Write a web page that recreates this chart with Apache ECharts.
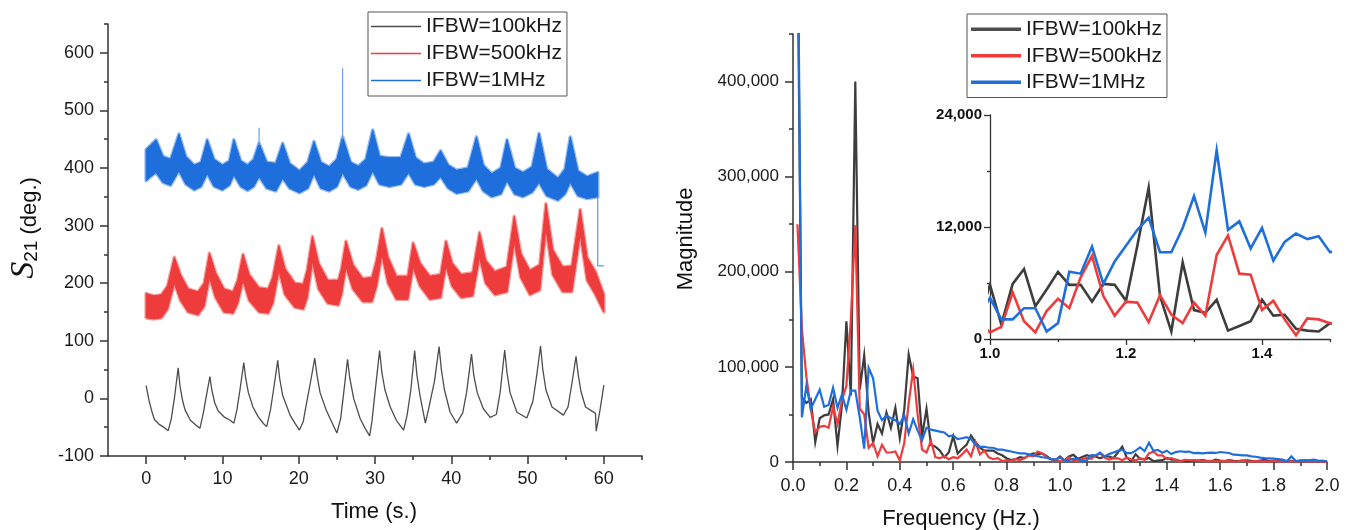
<!DOCTYPE html>
<html><head><meta charset="utf-8">
<script src="https://cdn.jsdelivr.net/npm/echarts@6/dist/echarts.min.js"></script>
<style>html,body{margin:0;padding:0;background:#fff}#c{width:1351px;height:530px}</style>
</head><body><div id="c"></div>
<script>
// ---------- tick labels ----------
const leftXTicks=[0,10,20,30,40,50,60];
const leftXMinor=[5,15,25,35,45,55,65];
const leftYTicks=[-100,0,100,200,300,400,500,600];
const leftYMinor=[-50,50,150,250,350,450,550,650];
const rightXTicks=[0,0.2,0.4,0.6,0.8,1.0,1.2,1.4,1.6,1.8,2.0];
const rightXMinor=[0.1,0.3,0.5,0.7,0.9,1.1,1.3,1.5,1.7,1.9];
const rightYTicks=[0,100000,200000,300000,400000];
const rightYMinor=[50000,150000,250000,350000,450000];
const insetXTicks=[1.0,1.2,1.4];
const insetXMinor=[1.1,1.3,1.5];
const insetYTicks=[0,12000,24000];
const insetYMinor=[6000,18000];
const seriesNames=['IFBW=100kHz','IFBW=500kHz','IFBW=1MHz'];

// ---------- left: S21 phase vs time ----------
const blackT=[0,0.4,0.8,1.1,1.7,2.2,2.6,2.9,3.3,3.7,4.2,4.45,4.8,5.1,5.8,6.5,7.05,7.5,7.9,8.36,8.6,9.0,9.45,10.2,11.0,11.5,11.9,12.3,12.8,13.05,13.4,14.0,14.7,15.4,15.8,16.3,16.7,17.25,17.5,17.9,18.9,19.5,20.1,20.6,21.0,21.5,22.1,22.4,22.8,23.6,24.4,25.0,25.5,25.9,26.4,26.7,27.2,28.05,28.7,29.3,29.6,30.0,30.6,30.9,31.3,32.0,32.8,33.75,34.2,34.7,35.2,35.5,35.9,36.6,37.0,37.8,38.4,38.7,39.1,39.85,40.7,41.5,42.0,42.65,42.95,43.4,44.2,45.1,45.9,46.4,47.0,47.3,47.7,48.6,49.9,50.7,51.2,51.7,52.0,52.4,53.2,54.7,55.3,55.8,56.35,56.65,57.0,57.6,58.9,59.0,59.5,60.0];
const blackV=[22,-5,-25,-37,-45,-49,-53,-56,-35,0,53,20,-5,-20,-38,-46,-52,-25,5,38,15,-8,-22,-32,-38,-43,-20,15,62,35,10,-15,-32,-44,-49,-20,15,66,35,5,-30,-43,-55,-40,-10,25,70,40,10,-20,-43,-60,-35,10,68,35,0,-35,-52,-65,-40,10,83,45,15,-15,-38,-55,-30,15,83,40,5,-43,-20,30,90,50,15,-24,-43,-25,10,77,40,10,-18,-33,-28,10,84,45,10,-24,-34,-5,40,91,50,15,-15,-29,-15,25,73,40,12,-15,-26,-57,-20,23];

const redT=[0,1,2,2.8,3.7,4.5,5.5,6.8,7.6,8.3,9.1,10.2,11.4,12.0,12.7,13.5,14.8,16.0,16.6,17.4,18.2,19.5,20.6,21.1,21.8,22.6,23.8,25.2,25.6,26.2,27.1,28.4,29.6,30.2,30.9,31.7,32.8,34.3,35.0,35.9,37.2,38.6,39.3,40.1,41.3,42.8,43.7,44.5,45.7,47.3,48.25,49.1,50.3,51.6,52.4,53.3,54.6,55.8,56.9,57.8,58.9,60];
const redLo=[140,138,140,155,200,170,150,145,160,210,175,150,148,165,205,170,150,148,165,222,180,158,155,175,238,190,165,162,180,228,190,168,168,195,250,200,172,172,228,195,172,175,230,195,175,178,245,200,180,185,272,210,180,188,295,215,185,185,285,205,180,150];
const redHi=[182,178,180,195,245,215,190,185,200,252,218,190,185,205,250,215,192,190,210,265,225,200,198,222,281,235,205,205,225,273,232,208,210,240,295,245,212,212,270,235,212,215,273,235,215,218,288,240,220,228,316,252,222,232,338,258,228,230,328,245,220,180];

const blueT=[0,0.6,1.3,2.2,3.2,4.3,5.2,6.3,7.2,8.0,8.9,10.0,10.9,11.5,12.4,13.3,14.1,14.8,15.8,17.0,17.9,18.8,20.1,21.2,22.0,22.9,24.0,25.0,25.75,26.8,27.8,28.8,29.7,30.6,31.9,33.4,34.4,35.3,36.4,37.7,38.6,39.6,40.7,42.2,43.3,44.2,45.3,46.5,47.3,48.3,49.4,50.6,51.5,52.5,54.0,54.9,55.6,56.6,57.8,59.2];
const blueLo=[378,385,392,375,370,395,372,362,368,390,368,362,370,388,368,361,368,385,365,360,382,365,357,365,390,365,360,368,392,368,363,370,395,372,368,372,392,372,368,372,385,365,356,360,382,360,350,355,378,355,350,358,375,352,344,355,375,352,347,350];
const blueHi=[432,440,449,420,415,459,420,405,410,449,415,405,412,449,412,405,415,443,410,408,443,408,395,410,446,410,402,415,454,410,403,415,466,420,418,418,459,418,407,410,430,405,396,400,454,405,390,400,449,400,392,402,460,398,382,398,454,395,385,392];
const blueSpikeT=[14.8,25.75];
const blueSpikeBase=[440,450];
const blueSpikeTop=[470,573];
const blueTailT=[59.2,59.2,60];
const blueTailV=[350,230,230];

// ---------- right: FFT magnitude (bins k/60 Hz, k=1..120) ----------
const fftBinHz=1/60;
const magBlack=[560000,68000,62000,66000,21000,46000,49000,50000,66000,17000,
60000,148000,70000,400000,76000,112000,52000,20000,40000,30000,
52000,36000,57000,25000,55000,113000,90000,88000,27000,56000,
18000,16000,12000,5000,10000,27000,9000,14000,18000,28000,
21000,15000,12000,12000,12000,9000,7000,4000,2000,3000,
5000,4000,7000,9000,8000,9000,6000,3000,2000,
5800,1550,5900,7500,3500,5300,7200,5800,5800,4000,5900,5800,4100,10000,16200,4600,800,8200,3100,2800,4200,900,1400,1900,4200,2500,2600,1100,900,800,1700,
1500,2000,1200,800,2500,1600,1000,2000,1300,900,1500,1800,1100,700,1400,2200,900,1200,1600,800,1300,1100,600,1400,900,1200,700,1000,1300,800];
const magRed=[250000,140000,90000,55000,31000,37000,38000,36000,58000,40000,
65000,80000,150000,249000,56000,50000,15000,20000,6000,18000,
10000,10000,11000,1500,20000,62000,97000,50000,13000,10000,
22000,5000,4000,6000,3000,5000,4000,8000,13000,6000,
21000,8000,12000,5000,3000,4000,1000,2000,1000,3000,
2000,4000,7000,6000,11000,9000,5000,3000,2000,
700,1300,5000,1900,700,3000,4300,3300,6600,8900,4600,2500,4000,3900,1800,4700,2600,1700,3900,2500,9000,11100,7000,6900,3100,4100,2100,400,2200,2100,1700,
1500,1200,1000,800,1200,600,900,1100,500,800,1400,700,500,1000,600,800,400,1200,600,1000,300,900,500,700,1100,400,600,800,500,300];
const magBlue=[620000,47000,80000,56000,66000,76000,58000,60000,78000,57000,
71000,55000,75000,75000,47000,14000,99000,88000,54000,44000,
49000,46000,44000,40000,49000,30000,45000,33000,23000,36000,
34000,33000,32000,31000,27000,28000,24000,25000,26000,24000,
18000,16000,16000,15000,15000,13000,13000,12000,11000,10000,
9000,9000,8000,7000,6000,5000,4600,3000,2500,
4400,2100,2100,3300,3300,800,1700,7200,7000,9900,5900,8300,10000,11700,13000,9300,9300,11900,15300,11400,20200,11700,12600,9700,11900,8400,10400,11300,10700,11000,9300,
9500,9000,9500,9800,9500,10500,10000,9500,7700,7500,7000,7000,6000,5500,4600,4000,3800,3500,3000,2500,700,6000,1000,1500,2000,1800,2500,1500,1200,800];

// ---------- styling ----------
const C_BLACK='#3d3d3d', C_BLACK_L='#4d4d4d', C_RED='#ee3b3b', C_RED_E='rgba(240,80,80,0.55)', C_BLUE='#1e6fdc', C_BLUE_E='rgba(60,130,230,0.55)';
const AX='#333';
const FONT='Liberation Sans';
const comma=v=>String(v).replace(/\B(?=(\d{3})+(?!\d))/g,',');

function mainAxis(gridIndex,pos,min,max,ticks,fmt,lab,tickLen,lineW){
  return {type:'value',gridIndex,position:pos,min,max,
    axisLine:{show:true,onZero:false,lineStyle:{color:AX,width:lineW}},
    axisTick:{show:true,inside:false,length:tickLen,customValues:ticks,lineStyle:{color:AX,width:lineW}},
    axisLabel:Object.assign({show:true,customValues:ticks,formatter:fmt,fontFamily:FONT,color:'#1a1a1a'},lab),
    splitLine:{show:false},minorTick:{show:false}};
}
function minorAxis(gridIndex,pos,min,max,ticks,tickLen,lineW){
  return {type:'value',gridIndex,position:pos,min,max,
    axisLine:{show:false,onZero:false},axisLabel:{show:false},
    axisTick:{show:true,inside:false,length:tickLen,customValues:ticks,lineStyle:{color:AX,width:lineW}},
    splitLine:{show:false}};
}
function band(name,T,LO,HI,fill,edge){
  return {type:'custom',name,xAxisIndex:0,yAxisIndex:0,coordinateSystem:'cartesian2d',
    itemStyle:{color:fill},silent:true,z:2,
    data:T.map((t,i)=>[t,LO[i],HI[i]]),encode:{x:0,y:[1,2]},
    renderItem(params,api){
      if(params.dataIndex!==0) return null;
      const pts=[];
      for(let i=0;i<T.length;i++) pts.push(api.coord([T[i],HI[i]]));
      for(let i=T.length-1;i>=0;i--) pts.push(api.coord([T[i],LO[i]]));
      return {type:'group',children:[
        {type:'polygon',shape:{points:pts},style:{fill:edge,stroke:edge,lineWidth:3.5,lineJoin:'round'}},
        {type:'polygon',shape:{points:pts},style:{fill:fill,stroke:fill,lineWidth:1}}
      ]};
    }};
}
function thinLine(name,pts,color,w){
  return {type:'line',name,xAxisIndex:0,yAxisIndex:0,data:pts,showSymbol:false,symbol:'none',
    lineStyle:{color,width:w},itemStyle:{color},silent:true,z:3};
}
function fft(name,vals,color,ai,w,z){
  return {type:'line',name,xAxisIndex:ai,yAxisIndex:ai,
    data:vals.map((v,i)=>[(i+1)*fftBinHz,v]),
    showSymbol:false,symbol:'none',lineStyle:{color,width:w,join:'miter'},itemStyle:{color},
    clip:true,silent:true,z};
}

const chart=echarts.init(document.getElementById('c'),null,{renderer:'canvas'});
const legendBase={orient:'vertical',itemWidth:50,itemGap:0,borderColor:'#555',borderWidth:1,
  backgroundColor:'#fff',selectedMode:false,
  textStyle:{fontSize:21,fontFamily:FONT,color:'#1a1a1a'}};
const spikeSeries=blueSpikeT.map((t,i)=>thinLine(seriesNames[2],[[t,blueSpikeBase[i]],[t,blueSpikeTop[i]]],'#6a9fea',1.2));
chart.setOption({
  animation:false,
  tooltip:{show:false},
  grid:[
    {left:108,top:24,width:534,height:432},
    {left:793,top:34,width:534,height:428},
    {left:990,top:115,width:340,height:224}
  ],
  xAxis:[
    mainAxis(0,'bottom',-5,65,leftXTicks,v=>String(v),{fontSize:18,margin:14},8,1.5),
    minorAxis(0,'bottom',-5,65,leftXMinor,4,1.5),
    mainAxis(1,'bottom',0,2,rightXTicks,v=>v.toFixed(1),{fontSize:18,margin:15},8,1.5),
    minorAxis(1,'bottom',0,2,rightXMinor,4,1.5),
    mainAxis(2,'bottom',1,1.5,insetXTicks,v=>v.toFixed(1),{fontSize:15,fontWeight:'bold',margin:7,color:'#111'},6,1.3),
    minorAxis(2,'bottom',1,1.5,insetXMinor,3,1.3)
  ],
  yAxis:[
    mainAxis(0,'left',-100,650,leftYTicks,v=>String(v),{fontSize:18,margin:14},8,1.5),
    minorAxis(0,'left',-100,650,leftYMinor,4,1.5),
    mainAxis(1,'left',0,450000,rightYTicks,comma,{fontSize:17,margin:14},8,1.5),
    minorAxis(1,'left',0,450000,rightYMinor,4,1.5),
    mainAxis(2,'left',0,24000,insetYTicks,comma,{fontSize:15,fontWeight:'bold',margin:8,color:'#111'},6,1.3),
    minorAxis(2,'left',0,24000,insetYMinor,3,1.3)
  ],
  legend:[
    Object.assign({},legendBase,{data:seriesNames.map(n=>({name:n,icon:'rect'})),left:368,top:12,
      itemHeight:1.5,padding:[1,5,2,3],textStyle:Object.assign({},legendBase.textStyle,{lineHeight:27})}),
    Object.assign({},legendBase,{data:seriesNames.map(n=>({name:n,icon:'rect'})),left:967,top:14,
      itemHeight:3.5,padding:[2,5,2,4],textStyle:Object.assign({},legendBase.textStyle,{lineHeight:26.5})})
  ],
  series:[
    band(seriesNames[2],blueT,blueLo,blueHi,C_BLUE,C_BLUE_E),
    band(seriesNames[1],redT,redLo,redHi,C_RED,C_RED_E),
    thinLine(seriesNames[0],blackT.map((t,i)=>[t,blackV[i]]),C_BLACK_L,1.3),
    ...spikeSeries,
    thinLine(seriesNames[2],blueTailT.map((t,i)=>[t,blueTailV[i]]),'#5b95e8',1.2),
    fft(seriesNames[0],magBlack,C_BLACK,2,2.2,3),
    fft(seriesNames[1],magRed,C_RED,2,2.2,4),
    fft(seriesNames[2],magBlue,C_BLUE,2,2.2,5),
    fft(seriesNames[0],magBlack,C_BLACK,4,2.6,3),
    fft(seriesNames[1],magRed,C_RED,4,2.6,4),
    fft(seriesNames[2],magBlue,C_BLUE,4,2.6,5)
  ],
  graphic:[
    {type:'text',x:374,y:512,style:{text:'Time (s.)',font:'22px "Liberation Sans"',fill:'#111',align:'center',verticalAlign:'middle',textAlign:'center',textVerticalAlign:'middle'}},
    {type:'text',x:961,y:519,style:{text:'Frequency (Hz.)',font:'22px "Liberation Sans"',fill:'#111',align:'center',verticalAlign:'middle',textAlign:'center',textVerticalAlign:'middle'}},
    {type:'text',x:686,y:239,rotation:Math.PI/2,style:{text:'Magnitude',font:'22px "Liberation Sans"',fill:'#111',align:'center',verticalAlign:'middle',textAlign:'center',textVerticalAlign:'middle'}},
    {type:'text',x:24,y:228,rotation:Math.PI/2,style:{text:'{s|S}{sub|21}{n| (deg.)}',
      rich:{s:{fontFamily:'Liberation Serif',fontStyle:'italic',fontSize:34,fill:'#111',color:'#111'},
            sub:{fontFamily:FONT,fontSize:19,fill:'#111',color:'#111',verticalAlign:'bottom'},
            n:{fontFamily:FONT,fontSize:22,fill:'#111',color:'#111',verticalAlign:'bottom'}},
      align:'center',verticalAlign:'middle',textAlign:'center',textVerticalAlign:'middle'}}
  ]
});
</script></body></html>
